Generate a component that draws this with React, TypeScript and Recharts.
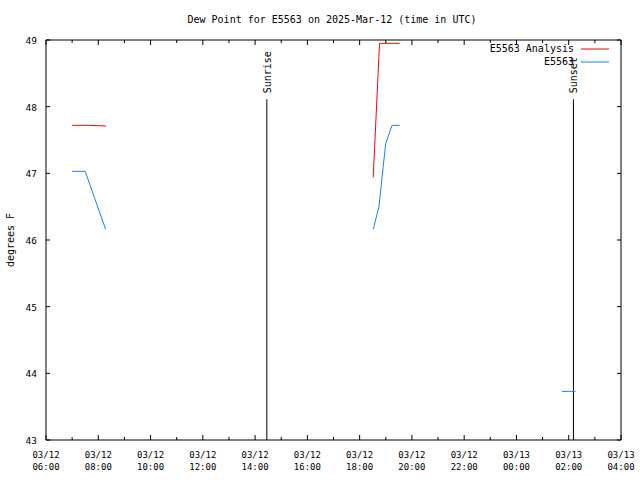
import { LineChart, Line, XAxis, YAxis, ReferenceLine } from 'recharts';

// hours since 03/12 00:00 UTC
const analysisHours = [7.0, 7.62, 8.3, null, 18.52, 18.76, 19.53];
const analysisDew = [47.72, 47.72, 47.71, null, 46.94, 48.95, 48.95];

const obsHours = [7.0, 7.5, 8.28, null, 18.52, 18.74, 18.9, 19.0, 19.24, 19.53, null, 25.74, 26.26];
const obsDew = [47.03, 47.03, 46.16, null, 46.16, 46.5, 47.1, 47.45, 47.72, 47.72, null, 43.73, 43.73];

const xTicks = [6, 7, 8, 9, 10, 11, 12, 13, 14, 15, 16, 17, 18, 19, 20, 21, 22, 23, 24, 25, 26, 27, 28];
const yTicks = [43, 44, 45, 46, 47, 48, 49];

const sunriseHour = 14.45;
const sunsetHour = 26.18;
const sunLineTop = 48.11;

const seriesNames = ['E5563 Analysis', 'E5563'];

const analysisData = analysisHours.map((h, i) => ({ h, v: analysisDew[i] }));
const obsData = obsHours.map((h, i) => ({ h, v: obsDew[i] }));

const FONT = 'DejaVu Sans Mono, monospace';
const PLOT_W = 575;
const PLOT_H = 400;
const RED = '#ff0000';
const BLUE = '#1b7fe3';

function tickLabel(h: number) {
  const day = h >= 24 ? '03/13' : '03/12';
  const hh = String(h % 24).padStart(2, '0');
  return [day, `${hh}:00`];
}

// gnuplot style: inward ticks on both sides, labels on every 2nd hour
function XTick(props: any) {
  const { x, y, payload } = props;
  const h = payload.value as number;
  const major = h % 2 === 0;
  const len = major ? 5 : 3;
  const [l1, l2] = tickLabel(h);
  return (
    <g>
      <line x1={x} y1={y} x2={x} y2={y - len} stroke="#000" />
      <line x1={x} y1={y - PLOT_H} x2={x} y2={y - PLOT_H + len} stroke="#000" />
      {major && (
        <text x={x} y={y + 18} textAnchor="middle" fontSize={9} fontFamily={FONT} fill="#000">
          <tspan x={x}>{l1}</tspan>
          <tspan x={x} dy={12}>{l2}</tspan>
        </text>
      )}
    </g>
  );
}

function YTick(props: any) {
  const { x, y, payload } = props;
  return (
    <g>
      <line x1={x} y1={y} x2={x + 4} y2={y} stroke="#000" />
      <line x1={x + PLOT_W} y1={y} x2={x + PLOT_W - 4} y2={y} stroke="#000" />
      <text x={x - 9} y={y + 4} textAnchor="end" fontSize={9.5} fontFamily={FONT} fill="#000">
        {payload.value}
      </text>
    </g>
  );
}

function SunLabel({ viewBox, text }: any) {
  const x = viewBox.x;
  const y = viewBox.y;
  return (
    <text
      x={x + 4}
      y={y - 6}
      transform={`rotate(-90 ${x + 4} ${y - 6})`}
      textAnchor="start"
      fontSize={10}
      fontFamily={FONT}
      fill="#000"
    >
      {text}
    </text>
  );
}

function KeyBox() {
  const colors = [RED, BLUE];
  return (
    <div
      style={{
        position: 'absolute',
        top: 42,
        right: 29,
        fontFamily: FONT,
        fontSize: 10,
        lineHeight: '13px',
      }}
    >
      {seriesNames.map((name, i) => (
        <div key={name} style={{ display: 'flex', justifyContent: 'flex-end', alignItems: 'center' }}>
          <span>{name}</span>
          <svg width={37} height={13}>
            <line x1={7} y1={7} x2={35} y2={7} stroke={colors[i]} />
          </svg>
        </div>
      ))}
    </div>
  );
}

export default function App() {
  return (
    <div style={{ position: 'fixed', left: 0, top: 0, width: 640, height: 480, background: '#fff' }}>
      <LineChart width={640} height={480} margin={{ top: 40, right: 19, left: 0, bottom: 0 }}>
        <text x={332} y={23} textAnchor="middle" fontSize={10} fontFamily={FONT} fill="#000">
          Dew Point for E5563 on 2025-Mar-12 (time in UTC)
        </text>
        <text
          x={14}
          y={240}
          transform="rotate(-90 14 240)"
          textAnchor="middle"
          fontSize={10}
          fontFamily={FONT}
          fill="#000"
        >
          degrees F
        </text>
        <XAxis
          dataKey="h"
          type="number"
          domain={[6, 28]}
          ticks={xTicks}
          interval={0}
          height={40}
          tickSize={0}
          tickMargin={0}
          tickLine={false}
          tick={<XTick />}
          axisLine={{ stroke: '#000' }}
          allowDataOverflow
        />
        <YAxis
          type="number"
          domain={[43, 49]}
          ticks={yTicks}
          interval={0}
          width={46}
          tickSize={0}
          tickMargin={0}
          tickLine={false}
          tick={<YTick />}
          axisLine={{ stroke: '#000' }}
          allowDataOverflow
        />
        <ReferenceLine y={49} stroke="#000" strokeOpacity={1} />
        <ReferenceLine x={28} stroke="#000" strokeOpacity={1} />
        <ReferenceLine
          segment={[{ x: sunriseHour, y: 43 }, { x: sunriseHour, y: sunLineTop }]}
          stroke="#000"
          strokeOpacity={1}
          label={<SunLabel text="Sunrise" />}
        />
        <ReferenceLine
          segment={[{ x: sunsetHour, y: 43 }, { x: sunsetHour, y: sunLineTop }]}
          stroke="#000"
          strokeOpacity={1}
          label={<SunLabel text="Sunset" />}
        />
        <Line
          data={analysisData}
          dataKey="v"
          name={seriesNames[0]}
          stroke={RED}
          strokeWidth={1}
          dot={false}
          activeDot={false}
          connectNulls={false}
          isAnimationActive={false}
        />
        <Line
          data={obsData}
          dataKey="v"
          name={seriesNames[1]}
          stroke={BLUE}
          strokeWidth={1}
          dot={false}
          activeDot={false}
          connectNulls={false}
          isAnimationActive={false}
        />
      </LineChart>
      <KeyBox />
    </div>
  );
}
